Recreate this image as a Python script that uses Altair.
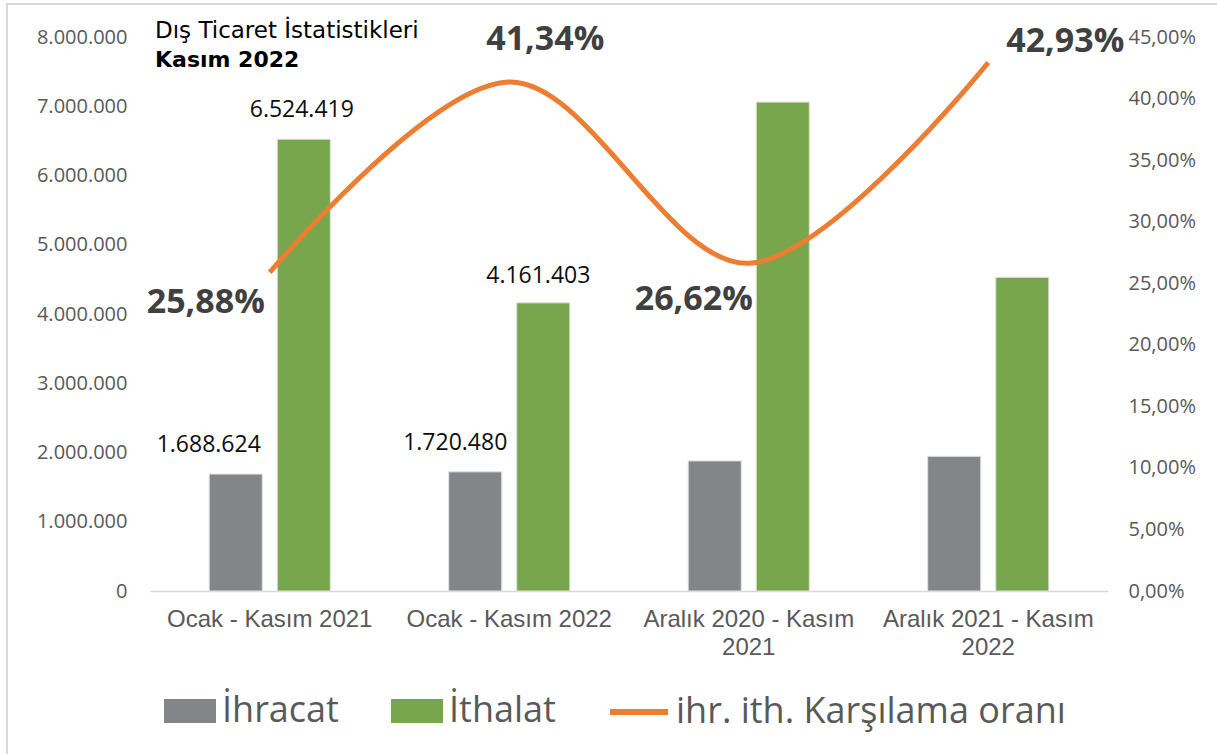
import altair as alt
import pandas as pd

# ---- data ----
categories = ["Ocak - Kasım 2021", "Ocak - Kasım 2022",
              "Aralık 2020 - Kasım 2021", "Aralık 2021 - Kasım 2022"]
series_names = ["İhracat", "İthalat"]
ihracat = [1688624, 1720480, 1879000, 1945000]
ithalat = [6524419, 4161403, 7060000, 4530000]
oran = [0.2588, 0.4134, 0.2662, 0.4293]
line_name = "ihr. ith. Karşılama oranı"
show_bar_label = [True, True, False, False]
left_ticks = [0, 1000000, 2000000, 3000000, 4000000, 5000000, 6000000, 7000000, 8000000]
right_ticks = [0, 0.05, 0.10, 0.15, 0.20, 0.25, 0.30, 0.35, 0.40, 0.45]
title_lines = ["Dış Ticaret İstatistikleri", "Kasım 2022"]

GRAY = "#848589"
GREEN = "#77A64D"
ORANGE = "#ED7D31"
AXIS_COL = "#595959"

def tr_num(v):
    return f"{v:,}".replace(",", ".")

def tr_pct(r):
    return f"{r*100:.2f}".replace(".", ",") + "%"

rows = []
for i, c in enumerate(categories):
    rows.append({"category": c, "series": series_names[0], "value": ihracat[i],
                 "label": tr_num(ihracat[i]) if show_bar_label[i] else ""})
    rows.append({"category": c, "series": series_names[1], "value": ithalat[i],
                 "label": tr_num(ithalat[i]) if show_bar_label[i] else ""})
bars_df = pd.DataFrame(rows)
line_df = pd.DataFrame({"category": categories, "oran": oran,
                        "name": [line_name] * 4,
                        "plabel": [tr_pct(r) for r in oran]})

x_enc = alt.X("category:N", sort=categories,
              scale=alt.Scale(domain=categories, paddingInner=0.494, paddingOuter=0.247),
              axis=alt.Axis(title=None, labelAngle=0, labelFont="Liberation Sans",
                            labelFontSize=24, labelColor=AXIS_COL, labelPadding=16,
                            labelLineHeight=28, ticks=False, domainColor="#d9d9d9",
                            domainWidth=1.5, labelLimit=400,
                            labelExpr="length(datum.value) > 18 ? [slice(datum.value, 0, length(datum.value) - 5), slice(datum.value, -4)] : datum.value"))
xoff_enc = alt.XOffset("series:N", sort=series_names,
                       scale=alt.Scale(domain=series_names, paddingInner=0.22, paddingOuter=0))
y_left = alt.Y("value:Q", scale=alt.Scale(domain=[0, 8000000], nice=False),
               axis=alt.Axis(title=None, orient="left", values=left_ticks, grid=False,
                             ticks=False, domain=False, labelFont="Open Sans",
                             labelFontSize=20, labelColor=AXIS_COL, labelPadding=23,
                             labelExpr="replace(replace(format(datum.value, ','), ',', '.'), ',', '.')"))
y_right = alt.Y("oran:Q", scale=alt.Scale(domain=[0, 0.45], nice=False),
                axis=alt.Axis(title=None, orient="right", values=right_ticks, grid=False,
                              ticks=False, domain=False, labelFont="Open Sans",
                              labelFontSize=20, labelColor=AXIS_COL, labelPadding=20,
                              labelExpr="replace(format(datum.value, '.2%'), '.', ',')"))

bars = alt.Chart(bars_df).mark_bar(stroke="#e3e3e3", strokeWidth=1).encode(
    x=x_enc, xOffset=xoff_enc, y=y_left,
    color=alt.Color("series:N", sort=series_names,
                    scale=alt.Scale(domain=series_names, range=[GRAY, GREEN]),
                    legend=alt.Legend(title=None, orient="none", legendX=14, legendY=648,
                                      direction="horizontal",
                                      symbolType="M-1,-0.46L1,-0.46L1,0.46L-1,0.46Z",
                                      symbolSize=2704, symbolStrokeWidth=0, symbolOpacity=1,
                                      labelFont="Open Sans", labelFontSize=36,
                                      labelColor=AXIS_COL, labelOffset=6,
                                      columnPadding=52, padding=0, labelLimit=400)),
)

# bar labels: offsets per label (dx, dy)
bar_label_offsets = {
    (categories[0], series_names[0]): (-27, -29),
    (categories[1], series_names[0]): (-20, -29),
    (categories[0], series_names[1]): (-2, -29),
    (categories[1], series_names[1]): (-5, -27),
}
bar_label_layers = []
for (cat, ser), (dx, dy) in bar_label_offsets.items():
    bar_label_layers.append(
        alt.Chart(bars_df).transform_filter(
            (alt.datum.category == cat) & (alt.datum.series == ser)
        ).mark_text(font="Open Sans", fontSize=23, color="#0d0d0d",
                    baseline="middle", align="center", dx=dx, dy=dy).encode(
            x=x_enc, xOffset=xoff_enc, y=y_left, text="label:N")
    )

left = alt.layer(bars, *bar_label_layers)

line = alt.Chart(line_df).mark_line(interpolate="cardinal", strokeWidth=5).encode(
    x=x_enc, y=y_right,
    stroke=alt.Stroke("name:N", scale=alt.Scale(domain=[line_name], range=[ORANGE]),
                      legend=alt.Legend(title=None, orient="none", legendX=457, legendY=643,
                                        symbolType="stroke", symbolSize=3364,
                                        symbolStrokeWidth=6, labelFont="Open Sans",
                                        labelFontSize=36, labelColor=AXIS_COL,
                                        labelOffset=5, padding=0, labelLimit=600)),
)

pct_offsets = [(-64, 31), (36, -42), (-55, 37), (77, -20)]
pct_layers = []
for cat, (dx, dy) in zip(categories, pct_offsets):
    pct_layers.append(
        alt.Chart(line_df).transform_filter(alt.datum.category == cat).mark_text(
            font="Open Sans", fontWeight="bold", fontSize=34, color="#404040",
            baseline="middle", align="center", dx=dx, dy=dy).encode(
            x=x_enc, y=y_right, text="plabel:N")
    )

right = alt.layer(line, *pct_layers)

title_df = pd.DataFrame({"t": title_lines})
title1 = alt.Chart(title_df).transform_filter(alt.datum.t == title_lines[0]).mark_text(
    align="left", baseline="alphabetic", font="DejaVu Sans", fontSize=23,
    color="black").encode(x=alt.value(5), y=alt.value(1), text="t:N")
title2 = alt.Chart(title_df).transform_filter(alt.datum.t == title_lines[1]).mark_text(
    align="left", baseline="alphabetic", font="DejaVu Sans", fontSize=22,
    fontWeight="bold", color="black").encode(x=alt.value(5), y=alt.value(30), text="t:N")

border = alt.Chart(pd.DataFrame({"b": [0]})).mark_rect(
    fill="white", fillOpacity=0, stroke="#d9d9d9", strokeWidth=2).encode(
    x=alt.value(-143), x2=alt.value(1120), y=alt.value(-33), y2=alt.value(760))

chart = alt.layer(border, left, right, title1, title2).resolve_scale(
    y="independent"
).properties(
    width=958, height=554,
    autosize=alt.AutoSizeParams(type="none"),
    padding={"left": 150, "top": 37, "right": 109, "bottom": 163},
    background="white",
).configure_view(stroke=None)

chart.save("out.html", embed_options={"renderer": "svg", "actions": False})
